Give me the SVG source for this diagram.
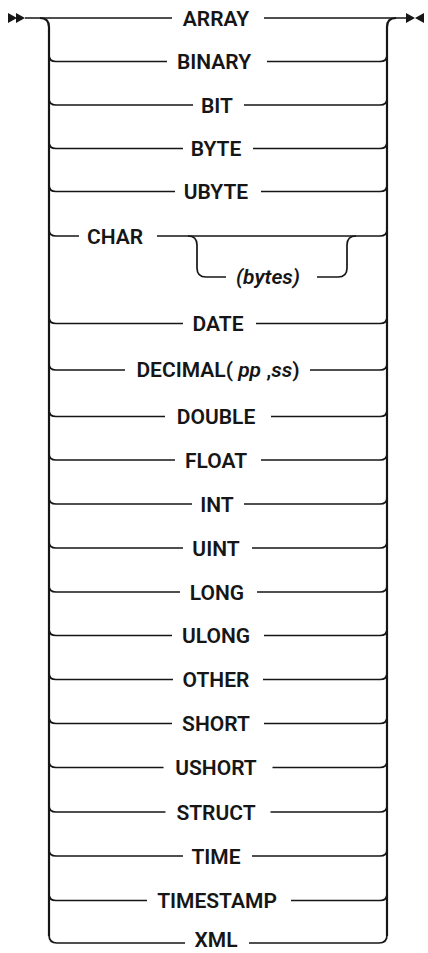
<svg xmlns="http://www.w3.org/2000/svg" width="428" height="953" viewBox="0 0 428 953">
<style>
text{font-family:Roboto,"Liberation Sans",sans-serif;font-size:21px;font-weight:600;fill:#161616;text-anchor:middle}
.v{fill:none;stroke:#161616;stroke-width:2.2}
.h{fill:none;stroke:#161616;stroke-width:1.7}
.it{font-style:italic}
.m{fill:#161616}
</style>
<rect width="428" height="953" fill="#fff"/>
<g id="connectors">
<path class="v" d="M40,18 Q49,18 49,27 L49,936"/>
<path class="v" d="M387,936 L387,27 Q387,18 396,18"/>
<path class="h" d="M25,18 L172,18 M264,18 L407,18"/>
<path class="h" d="M49,55 Q49,61.5 56,61.5 L167,61.5 M267,61.5 L380,61.5 Q387,61.5 387,55"/>
<path class="h" d="M49,98.5 Q49,105 56,105 L193,105 M244,105 L380,105 Q387,105 387,98.5"/>
<path class="h" d="M49,142 Q49,148.5 56,148.5 L183,148.5 M253,148.5 L380,148.5 Q387,148.5 387,142"/>
<path class="h" d="M49,185 Q49,191.5 56,191.5 L175,191.5 M261,191.5 L380,191.5 Q387,191.5 387,185"/>
<path class="h" d="M49,229.5 Q49,236 56,236 L79,236 M157,236 L380,236 Q387,236 387,229.5"/>
<path class="h" d="M188,236 Q197,236 197,245 L197,268 Q197,277 206,277 L226,277 M317,277 L338,277 Q347,277 347,268 L347,245 Q347,236 356,236"/>
<path class="h" d="M49,317 Q49,323.5 56,323.5 L183,323.5 M256,323.5 L380,323.5 Q387,323.5 387,317"/>
<path class="h" d="M49,363.5 Q49,370 56,370 L125,370 M310,370 L380,370 Q387,370 387,363.5"/>
<path class="h" d="M49,410 Q49,416.5 56,416.5 L165,416.5 M271,416.5 L380,416.5 Q387,416.5 387,410"/>
<path class="h" d="M49,453.5 Q49,460 56,460 L175,460 M261,460 L380,460 Q387,460 387,453.5"/>
<path class="h" d="M49,497.5 Q49,504 56,504 L192,504 M244,504 L380,504 Q387,504 387,497.5"/>
<path class="h" d="M49,541.5 Q49,548 56,548 L183,548 M252,548 L380,548 Q387,548 387,541.5"/>
<path class="h" d="M49,585.5 Q49,592 56,592 L180,592 M257,592 L380,592 Q387,592 387,585.5"/>
<path class="h" d="M49,629 Q49,635.5 56,635.5 L172,635.5 M264,635.5 L380,635.5 Q387,635.5 387,629"/>
<path class="h" d="M49,673 Q49,679.5 56,679.5 L173,679.5 M263,679.5 L380,679.5 Q387,679.5 387,673"/>
<path class="h" d="M49,717 Q49,723.5 56,723.5 L172,723.5 M264,723.5 L380,723.5 Q387,723.5 387,717"/>
<path class="h" d="M49,761 Q49,767.5 56,767.5 L163.5,767.5 M272.5,767.5 L380,767.5 Q387,767.5 387,761"/>
<path class="h" d="M49,805.5 Q49,812 56,812 L165.5,812 M270.5,812 L380,812 Q387,812 387,805.5"/>
<path class="h" d="M49,849.5 Q49,856 56,856 L183,856 M252,856 L380,856 Q387,856 387,849.5"/>
<path class="h" d="M49,894 Q49,900.5 56,900.5 L147,900.5 M291,900.5 L380,900.5 Q387,900.5 387,894"/>
<path class="h" d="M49,935 Q49,943 57,943 L185,943 M249,943 L379,943 Q387,943 387,935"/>
</g>
<g id="start"><path class="m" d="M8,13 L17,18 L8,23 Z M16,13 L25,18 L16,23 Z"/></g>
<g id="end"><path class="m" d="M406,13 L415,18 L406,23 Z M424,13 L415,18 L424,23 Z"/></g>
<g id="n-array"><text x="216" y="25.5">ARRAY</text></g>
<g id="n-binary"><text x="214" y="69">BINARY</text></g>
<g id="n-bit"><text x="217" y="112.5">BIT</text></g>
<g id="n-byte"><text x="216" y="156">BYTE</text></g>
<g id="n-ubyte"><text x="216" y="199">UBYTE</text></g>
<g id="n-char"><text x="115" y="243.5">CHAR</text></g>
<g id="n-bytes"><text x="268" y="284" class="it">(bytes)</text></g>
<g id="n-date"><text x="218" y="331">DATE</text></g>
<g id="n-decimal"><text x="218" y="377">DECIMAL(&#160;<tspan class="it">pp</tspan>&#160;,<tspan class="it">ss</tspan>)</text></g>
<g id="n-double"><text x="216" y="424">DOUBLE</text></g>
<g id="n-float"><text x="216" y="467.5">FLOAT</text></g>
<g id="n-int"><text x="217" y="511.5">INT</text></g>
<g id="n-uint"><text x="216" y="555.5">UINT</text></g>
<g id="n-long"><text x="217" y="599.5">LONG</text></g>
<g id="n-ulong"><text x="216" y="643">ULONG</text></g>
<g id="n-other"><text x="216" y="687">OTHER</text></g>
<g id="n-short"><text x="216" y="731">SHORT</text></g>
<g id="n-ushort"><text x="216" y="775">USHORT</text></g>
<g id="n-struct"><text x="216" y="819.5">STRUCT</text></g>
<g id="n-time"><text x="216" y="863.5">TIME</text></g>
<g id="n-timestamp"><text x="217" y="908">TIMESTAMP</text></g>
<g id="n-xml"><text x="216" y="947">XML</text></g>
</svg>
